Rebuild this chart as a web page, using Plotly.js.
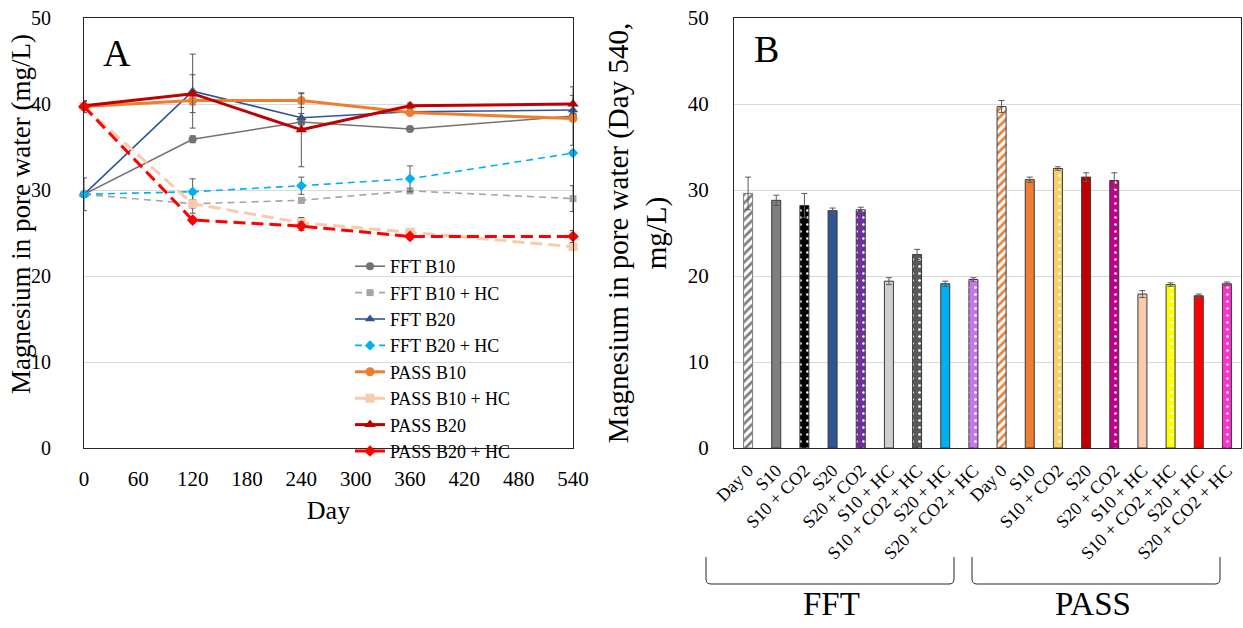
<!DOCTYPE html>
<html>
<head>
<meta charset="utf-8">
<script src="https://cdn.plot.ly/plotly-3.0.1.min.js"></script>
<style>
html,body{margin:0;padding:0;background:#fff;}
#chart{width:1243px;height:628px;}
</style>
</head>
<body>
<div id="chart"></div>
<script>
// ---------- Panel A data ----------
const days = [0, 120, 240, 360, 540];
const seriesNames = ["FFT B10", "FFT B10 + HC", "FFT B20", "FFT B20 + HC",
                     "PASS B10", "PASS B10 + HC", "PASS B20", "PASS B20 + HC"];
const fftB10      = [29.5, 35.9, 37.9, 37.1, 38.6];
const fftB10HC    = [29.5, 28.4, 28.8, 29.9, 29.0];
const fftB20      = [29.5, 41.5, 38.4, 39.1, 39.3];
const fftB20HC    = [29.5, 29.8, 30.5, 31.3, 34.3];
const passB10     = [39.7, 40.4, 40.4, 39.0, 38.3];
const passB10HC   = [39.7, 28.4, 26.2, 25.1, 23.4];
const passB20     = [39.8, 41.2, 37.0, 39.8, 40.0];
const passB20HC   = [39.7, 26.5, 25.8, 24.6, 24.6];
const fftB10Err    = [1.9, 0.4, 0.3, 0.3, 3.4];
const fftB10HCErr  = [0.3, 1.1, 0.3, 0.3, 1.5];
const fftB20Err    = [0.3, 4.3, 0.5, 0.3, 0.5];
const fftB20HCErr  = [0.3, 1.5, 1.0, 1.5, 0.3];
const passB10Err   = [0.7, 0.5, 0.8, 0.3, 0.3];
const passB10HCErr = [0.3, 0.5, 0.6, 0.3, 0.3];
const passB20Err   = [0.5, 2.2, 4.3, 0.3, 1.0];
const passB20HCErr = [0.3, 0.3, 0.5, 0.3, 0.7];
const titleA = "Magnesium in pore water (mg/L)";
const titleB = "Magnesium in pore water (Day 540,<br>mg/L)";

// ---------- Panel B data ----------
const barLabels = ["Day 0", "S10", "S10 + CO2", "S20", "S20 + CO2", "S10 + HC",
                   "S10 + CO2 + HC", "S20 + HC", "S20 + CO2 + HC",
                   "Day 0", "S10", "S10 + CO2", "S20", "S20 + CO2", "S10 + HC",
                   "S10 + CO2 + HC", "S20 + HC", "S20 + CO2 + HC"];
const barValues = [29.6, 28.8, 28.2, 27.6, 27.7, 19.4, 22.5, 19.1, 19.6,
                   39.7, 31.2, 32.5, 31.5, 31.1, 17.9, 19.0, 17.7, 19.1];
const barErrors = [1.9, 0.6, 1.4, 0.3, 0.3, 0.4, 0.6, 0.3, 0.2,
                   0.7, 0.3, 0.2, 0.5, 0.9, 0.4, 0.2, 0.2, 0.2];
const groupLabels = ["FFT", "PASS"];

// ---------- styles ----------
const FONT = "Liberation Serif, Times New Roman, serif";
const W = 1243, H = 628;
const px = v => v / W;
const py = v => 1 - v / H;

const lineStyles = [
  {color: "#767171", width: 1.6, dash: "solid", symbol: "circle", size: 8},
  {color: "#A5A5A5", width: 1.6, dash: "7px,5px", symbol: "square", size: 7},
  {color: "#2F5597", width: 1.6, dash: "solid", symbol: "triangle-up", size: 9},
  {color: "#00B0F0", width: 1.6, dash: "7px,5px", symbol: "diamond", size: 8},
  {color: "#ED7D31", width: 3, dash: "solid", symbol: "circle", size: 9},
  {color: "#F8CBAD", width: 3, dash: "12px,6px", symbol: "square", size: 9},
  {color: "#C00000", width: 3, dash: "solid", symbol: "triangle-up", size: 10},
  {color: "#FF0000", width: 3, dash: "12px,6px", symbol: "diamond", size: 9}
];
const lineData = [fftB10, fftB10HC, fftB20, fftB20HC, passB10, passB10HC, passB20, passB20HC];
const lineErr = [fftB10Err, fftB10HCErr, fftB20Err, fftB20HCErr, passB10Err, passB10HCErr, passB20Err, passB20HCErr];

const traces = lineData.map((ys, i) => ({
  type: "scatter", mode: "lines+markers",
  x: days, y: ys, name: seriesNames[i],
  xaxis: "x", yaxis: "y",
  cliponaxis: false,
  line: {color: lineStyles[i].color, width: lineStyles[i].width, dash: lineStyles[i].dash},
  marker: {color: lineStyles[i].color, symbol: lineStyles[i].symbol, size: lineStyles[i].size},
  error_y: {type: "data", array: lineErr[i], visible: true, color: "#595959", thickness: 1, width: 3}
}));

const barColors = ["#FFFFFF", "#7F7F7F", "#000000", "#2F5597", "#7030A0", "#D0CECE",
                   "#595959", "#00B0F0", "#C678E8",
                   "#FFFFFF", "#ED7D31", "#F5D06B", "#C00000", "#C0008A", "#F8CBAD",
                   "#FFFF00", "#FF0000", "#FF33CC"];
const barShapes = ["/", "", ".", "", ".", "", ".", "", ".",
                   "/", "", ".", "", ".", "", ".", "", "."];
const barIdx = barValues.map((v, i) => i);

barValues.forEach((v, i) => {
  const shape = barShapes[i];
  const hatch = shape === "/";
  const marker = {
    color: barColors[i],
    line: {color: i === 0 ? "#7F7F7F" : "#3A3A3A", width: 1}
  };
  if (shape) {
    marker.pattern = {
      shape: shape,
      fillmode: "replace",
      bgcolor: barColors[i],
      fgcolor: hatch ? (i < 9 ? "#7F7F7F" : "#ED7D31") : "#FFFFFF",
      size: hatch ? 6 : 7,
      solidity: hatch ? 0.45 : 0.12
    };
  }
  traces.push({
    type: "bar", x: [barIdx[i]], y: [v], xaxis: "x2", yaxis: "y2",
    width: 0.32, showlegend: false, name: barLabels[i],
    marker: marker,
    error_y: {type: "data", array: [barErrors[i]], visible: true, color: "#595959", thickness: 1, width: 3}
  });
});

const axisCommon = {
  showline: true, mirror: true, linecolor: "#262626", linewidth: 1,
  ticks: "", zeroline: false,
  tickfont: {family: FONT, size: 21, color: "#000"}
};

const bracket = (x1, x2) => {
  const yt = 557, yb = 584, r = 5;
  return {
    type: "path", xref: "paper", yref: "paper",
    path: `M ${px(x1)},${py(yt)} L ${px(x1)},${py(yb - r)} Q ${px(x1)},${py(yb)} ${px(x1 + r)},${py(yb)} ` +
          `L ${px(x2 - r)},${py(yb)} Q ${px(x2)},${py(yb)} ${px(x2)},${py(yb - r)} L ${px(x2)},${py(yt)}`,
    line: {color: "#262626", width: 1}
  };
};

const ann = (text, x, y, size, angle) => ({
  text: text, xref: "paper", yref: "paper", x: px(x), y: py(y),
  xanchor: "center", yanchor: "middle", showarrow: false, textangle: angle || 0,
  font: {family: FONT, size: size, color: "#000"}
});

const layout = {
  width: W, height: H,
  margin: {l: 0, r: 0, t: 0, b: 0},
  paper_bgcolor: "#fff", plot_bgcolor: "#fff",
  font: {family: FONT, color: "#000"},
  barmode: "overlay",
  showlegend: true,
  legend: {
    x: px(350), y: py(248), xanchor: "left", yanchor: "top",
    bgcolor: "rgba(0,0,0,0)", borderwidth: 0,
    font: {family: FONT, size: 18, color: "#000"},
    tracegroupgap: 0
  },
  xaxis: Object.assign({}, axisCommon, {
    domain: [px(84), px(573)], anchor: "y",
    range: [0, 540], tickvals: [0, 60, 120, 180, 240, 300, 360, 420, 480, 540],
    showgrid: false, ticklabelstandoff: 12,
    title: {text: "Day", font: {family: FONT, size: 26, color: "#000"}, standoff: 10}
  }),
  yaxis: Object.assign({}, axisCommon, {
    domain: [py(448), py(18)], anchor: "x",
    range: [0, 50], dtick: 10, showgrid: true, gridcolor: "#D9D9D9", gridwidth: 1,
    ticklabelstandoff: 28,
    tickfont: {family: FONT, size: 20, color: "#000"}
  }),
  xaxis2: Object.assign({}, axisCommon, {
    domain: [px(734), px(1241)], anchor: "y2",
    range: [-0.5, 17.5], tickvals: barIdx, ticktext: barLabels, tickangle: -45,
    showgrid: false, ticklabelstandoff: 4,
    tickfont: {family: FONT, size: 18, color: "#000"}
  }),
  yaxis2: Object.assign({}, axisCommon, {
    domain: [py(448), py(18)], anchor: "x2",
    range: [0, 50], dtick: 10, showgrid: true, gridcolor: "#D9D9D9", gridwidth: 1,
    ticklabelstandoff: 20,
    title: {text: titleB, font: {family: FONT, size: 29, color: "#000"}, standoff: 12}
  }),
  annotations: [
    ann(titleA, 21, 214, 27, -90),
    ann("A", 117, 53, 38),
    ann("B", 766, 49, 38),
    ann(groupLabels[0], 831, 604, 33),
    ann(groupLabels[1], 1093, 604, 33)
  ],
  shapes: [bracket(706, 954), bracket(972, 1220)]
};

Plotly.newPlot("chart", traces, layout, {displayModeBar: false, staticPlot: true});
</script>
</body>
</html>
